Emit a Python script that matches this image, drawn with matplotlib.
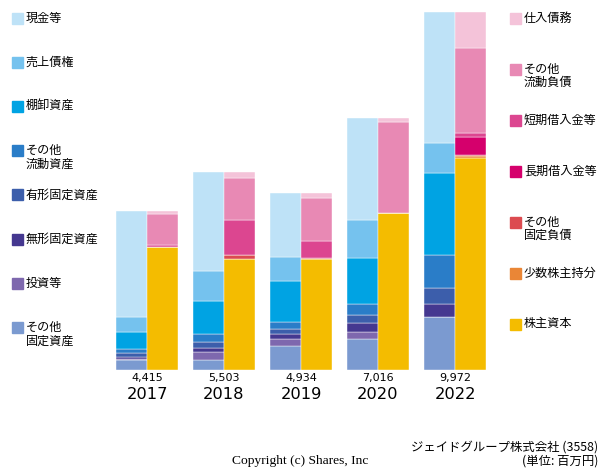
import numpy as np
import matplotlib
matplotlib.use('Agg')
import matplotlib.pyplot as plt
import matplotlib.patches as mpatches

plt.rcParams['font.family'] = ['Noto Sans CJK JP', 'DejaVu Sans']

# dados (百万円)
anos = ['2017', '2018', '2019', '2020', '2022']
totais = [4415, 5503, 4934, 7016, 9972]

# ativo (de baixo para cima)
outros_fixos = [286, 279, 668, 863, 1484]
investimentos = [14, 223, 195, 203, 0]
intangivel = [72, 103, 131, 234, 345]
tangivel = [111, 167, 148, 231, 446]
outros_circ = [103, 232, 187, 298, 927]
estoques = [473, 910, 1150, 1298, 2275]
recebiveis = [418, 853, 677, 1050, 836]
caixa = [2938, 2736, 1778, 2839, 3659]

# passivo + PL (de baixo para cima)
capital = [3440, 3100, 3101, 4379, 5897]
minoritarios = [0, 0, 0, 0, 56]
outros_pass_fixo = [0, 103, 14, 0, 28]
divida_lp = [0, 0, 0, 0, 510]
divida_cp = [28, 983, 482, 0, 123]
outros_pass_circ = [872, 1150, 1198, 2534, 2367]
fornecedores = [75, 167, 139, 103, 991]

ativo = [
    (outros_fixos, '#7B9AD0'), (investimentos, '#7E68AE'), (intangivel, '#453890'),
    (tangivel, '#3C5EAB'), (outros_circ, '#2A7DC8'), (estoques, '#00A3E3'),
    (recebiveis, '#75C2EE'), (caixa, '#BEE2F7'),
]
passivo = [
    (capital, '#F4BC00'), (minoritarios, '#EA8636'), (outros_pass_fixo, '#DC4B50'),
    (divida_lp, '#D5006C'), (divida_cp, '#DC4690'), (outros_pass_circ, '#E889B4'),
    (fornecedores, '#F4C3D9'),
]

leg_esq = [('現金等', '#BEE2F7'), ('売上債権', '#75C2EE'), ('棚卸資産', '#00A3E3'),
           ('その他\n流動資産', '#2A7DC8'), ('有形固定資産', '#3C5EAB'),
           ('無形固定資産', '#453890'), ('投資等', '#7E68AE'), ('その他\n固定資産', '#7B9AD0')]
leg_dir = [('仕入債務', '#F4C3D9'), ('その他\n流動負債', '#E889B4'), ('短期借入金等', '#DC4690'),
           ('長期借入金等', '#D5006C'), ('その他\n固定負債', '#DC4B50'),
           ('少数株主持分', '#EA8636'), ('株主資本', '#F4BC00')]

W, H = 600, 470
fig = plt.figure(figsize=(6, 4.7), dpi=100)
ax = fig.add_axes([108.5 / W, 100 / H, 385 / W, 358 / H])

x = np.arange(len(anos))
larg = 31 / 77

base = np.zeros(len(anos))
for vals, cor in ativo:
    ax.bar(x - larg / 2, vals, larg, bottom=base, color=cor, edgecolor='white', linewidth=0.3)
    base += np.array(vals)

base = np.zeros(len(anos))
for vals, cor in passivo:
    ax.bar(x + larg / 2, vals, larg, bottom=base, color=cor, edgecolor='white', linewidth=0.3)
    base += np.array(vals)

ax.set_xlim(-0.5, len(anos) - 0.5)
ax.set_ylim(0, 9972)
ax.axis('off')

for i, (ano, tot) in enumerate(zip(anos, totais)):
    ax.text(i, -8 / 358 * 9972, f'{tot:,}', ha='center', va='center', fontsize=8,
            family='DejaVu Sans')
    ax.text(i, -24.5 / 358 * 9972, ano, ha='center', va='center', fontsize=11.7,
            family='DejaVu Sans')

# legendas
def legenda(itens, x0, y0, passo):
    for k, (nome, cor) in enumerate(itens):
        yc = y0 + k * passo
        fig.patches.append(mpatches.Rectangle((x0 / W, 1 - (yc + 5.5) / H), 11 / W, 11 / H,
                                              color=cor, transform=fig.transFigure))
        fig.text((x0 + 14) / W, 1 - (yc - 6.5) / H, nome, ha='left', va='top', fontsize=8.7,
                 linespacing=1.05)

legenda(leg_esq, 12, 18, 44.2)
legenda(leg_dir, 510, 18, 51)

fig.text(598 / W, 1 - 447 / H, 'ジェイドグループ株式会社 (3558)', ha='right', va='center', fontsize=8.9)
fig.text(598 / W, 1 - 461 / H, '(単位: 百万円)', ha='right', va='center', fontsize=8.9)
fig.text(300 / W, 1 - 461 / H, 'Copyright (c) Shares, Inc', ha='center', va='center', fontsize=9.7,
         family='Liberation Serif')

plt.savefig('out.png', dpi=100)
